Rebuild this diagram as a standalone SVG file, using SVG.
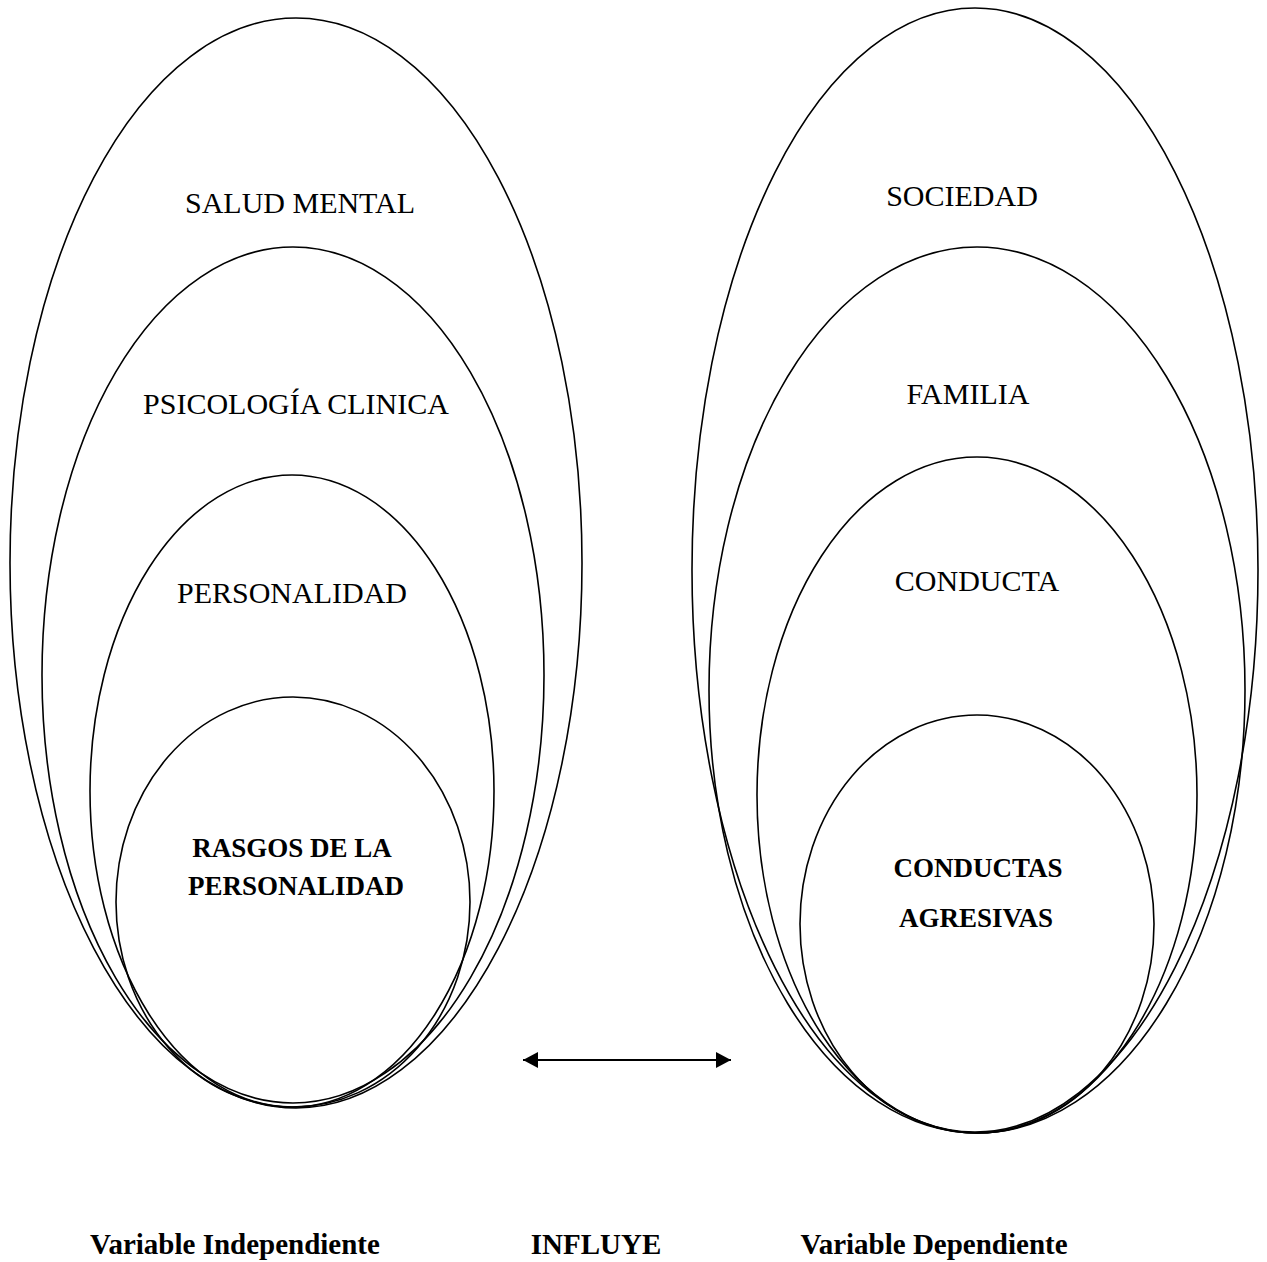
<svg xmlns="http://www.w3.org/2000/svg" width="1267" height="1262" viewBox="0 0 1267 1262">
<style>
.e{fill:none;stroke:#000;stroke-width:1.6}
.t{font-family:"Liberation Serif","Times New Roman",serif;font-size:30px;fill:#000;text-anchor:middle}
.b{font-family:"Liberation Serif","Times New Roman",serif;font-size:27px;font-weight:bold;fill:#000;text-anchor:middle}
.l{font-family:"Liberation Serif","Times New Roman",serif;font-size:29px;font-weight:bold;fill:#000;text-anchor:middle}
</style>
<defs>
<marker id="ah" viewBox="0 0 15 16" refX="15" refY="8" markerWidth="15" markerHeight="16" markerUnits="userSpaceOnUse" orient="auto-start-reverse">
<path d="M0,0 L15,8 L0,16 Z" fill="#000"/>
</marker>
</defs>
<rect width="1267" height="1262" fill="#fff"/>
<g id="salud-mental"><ellipse class="e" cx="296" cy="563" rx="286" ry="545"/><text class="t" x="300" y="213">SALUD MENTAL</text></g>
<g id="psicologia-clinica"><ellipse class="e" cx="293" cy="675" rx="251" ry="428"/><text class="t" x="296" y="414">PSICOLOGÍA CLINICA</text></g>
<g id="personalidad"><ellipse class="e" cx="292" cy="791" rx="202" ry="316"/><text class="t" x="292" y="603">PERSONALIDAD</text></g>
<g id="rasgos"><ellipse class="e" cx="293" cy="902" rx="177" ry="205"/><text class="b" x="292" y="857">RASGOS DE LA</text><text class="b" x="296" y="895">PERSONALIDAD</text></g>
<g id="sociedad"><ellipse class="e" cx="975" cy="570" rx="283" ry="562"/><text class="t" x="962" y="206">SOCIEDAD</text></g>
<g id="familia"><ellipse class="e" cx="977" cy="690" rx="268" ry="443"/><text class="t" x="968" y="404">FAMILIA</text></g>
<g id="conducta"><ellipse class="e" cx="977" cy="795" rx="220" ry="338"/><text class="t" x="977" y="591">CONDUCTA</text></g>
<g id="conductas-agresivas"><ellipse class="e" cx="977" cy="924" rx="177" ry="209"/><text class="b" x="978" y="877">CONDUCTAS</text><text class="b" x="976" y="927">AGRESIVAS</text></g>
<g id="connectors"><line x1="523" y1="1060" x2="731" y2="1060" stroke="#000" stroke-width="2" marker-start="url(#ah)" marker-end="url(#ah)"/></g>
<g id="labels">
<text class="l" x="235" y="1254">Variable Independiente</text>
<text class="l" x="596" y="1254">INFLUYE</text>
<text class="l" x="934" y="1254">Variable Dependiente</text>
</g>
</svg>
